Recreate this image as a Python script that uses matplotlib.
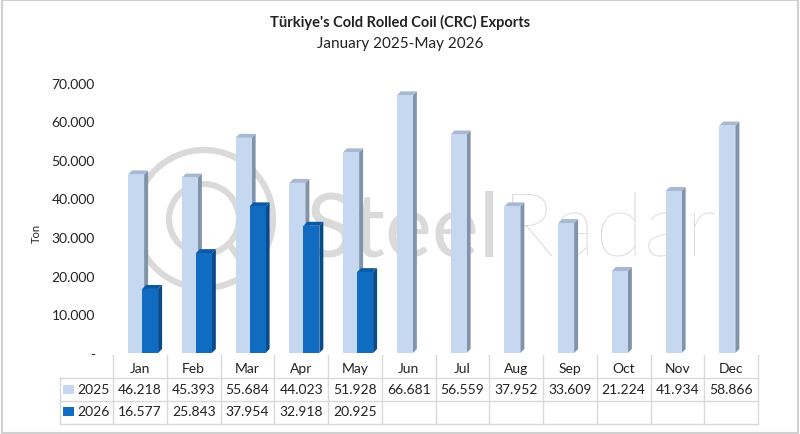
import numpy as np
import matplotlib
matplotlib.use("Agg")
import matplotlib.pyplot as plt
from matplotlib.patches import Polygon, Rectangle, Circle
from matplotlib.lines import Line2D
import matplotlib.transforms as mtransforms

plt.rcParams["font.family"] = ["Lato", "DejaVu Sans"]

months = ["Jan", "Feb", "Mar", "Apr", "May", "Jun",
          "Jul", "Aug", "Sep", "Oct", "Nov", "Dec"]
exports_2025 = [46218, 45393, 55684, 44023, 51928, 66681,
                56559, 37952, 33609, 21224, 41934, 58866]
exports_2026 = [16577, 25843, 37954, 32918, 20925]
series_names = ["2025", "2026"]
yticks = [0, 10000, 20000, 30000, 40000, 50000, 60000, 70000]

W, H = 800, 435
FRONT = ["#c5d8ef", "#0f6cc0"]
SIDE = ["#8193ab", "#0a4a88"]
TOP = ["#a7b8d0", "#0d5aa4"]
GRID = "#d9d9d9"
TXT = "#222222"
WM = "#dadada"


def fmt(v):
    if v == 0:
        return "-"
    return f"{v:,.0f}".replace(",", ".")


def fy(px):
    # pixel row -> figure fraction
    return 1 - px / H


fig = plt.figure(figsize=(W / 100, H / 100), dpi=100)
fig.patch.set_facecolor("white")
fig.patches.append(Rectangle((0.002, 0.003), 0.996, 0.994, transform=fig.transFigure,
                             fill=False, edgecolor="#d0d0d0", lw=1.5))

x_left, x_right = 113, 758
y_zero, y_top = 354, 70
ax = fig.add_axes([x_left / W, fy(y_zero), (x_right - x_left) / W, (y_zero - y_top) / H])
ax.set_xlim(-0.5, 11.5)
ax.set_ylim(0, 73500)
for s in ax.spines.values():
    s.set_visible(False)
ax.set_xticks([])
ax.set_yticks(yticks)
ax.set_yticklabels([fmt(v) for v in yticks], fontsize=10, color=TXT)
ax.tick_params(axis="y", length=0, pad=13)
fig.text(36 / W, fy(233), "Ton", rotation=90, ha="center", va="center", fontsize=8, color=TXT)

px_per_cat = (x_right - x_left) / 12.0
px_per_val = (y_zero - y_top) / 73500.0
dx = 4 / px_per_cat
dy = 4 / px_per_val
bw = 16 / px_per_cat
offsets = [-0.07, 0.19]

for k, vals in enumerate([exports_2025, exports_2026]):
    xs = np.arange(len(vals)) + offsets[k]
    ax.bar(xs, vals, width=bw, color=FRONT[k], edgecolor="none", zorder=2 + 2 * k)
    for x, h in zip(xs, vals):
        x0, x1 = x - bw / 2, x + bw / 2
        side = Polygon([(x1, 0), (x1 + dx, dy), (x1 + dx, h + dy), (x1, h)],
                       closed=True, facecolor=SIDE[k], edgecolor="none", zorder=1 + 2 * k)
        top = Polygon([(x0, h), (x0 + dx, h + dy), (x1 + dx, h + dy), (x1, h)],
                      closed=True, facecolor=TOP[k], edgecolor="none", zorder=1 + 2 * k)
        ax.add_patch(side)
        ax.add_patch(top)

# watermark (pixel coords, behind the bars)
pix = mtransforms.IdentityTransform()
cx, cy = 204, H - 220
for r in (69, 35):
    ax.add_patch(Circle((cx, cy), r, transform=pix, fill=False, edgecolor=WM,
                        lw=4.5, zorder=0.5, clip_on=False))
ax.add_line(Line2D([cx + 25, cx + 55], [cy - 25, cy - 67], transform=pix, color=WM,
                   lw=4.5, solid_capstyle="round", zorder=0.5, clip_on=False))
t1 = ax.text(305, H - 257, "Steel", transform=pix, fontsize=64, fontweight="normal",
             color=WM, ha="left", va="baseline", zorder=0.5)
fig.canvas.draw()
bb = t1.get_window_extent(fig.canvas.get_renderer())
ax.text(bb.x1 + 2, H - 257, "Radar", transform=pix, fontsize=64, fontweight="light",
        color=WM, ha="left", va="baseline", zorder=0.5)

# data table under the plot
bt = mtransforms.blended_transform_factory(ax.transData, fig.transFigure)
row_lines = [379, 402, 425]
for yp in row_lines:
    fig.add_artist(Line2D([60 / W, x_right / W], [fy(yp), fy(yp)], color=GRID, lw=1))
fig.add_artist(Line2D([60 / W, 60 / W], [fy(379), fy(425)], color=GRID, lw=1))
for i in range(13):
    ax.add_line(Line2D([i - 0.5, i - 0.5], [fy(356), fy(425)], transform=bt,
                       color=GRID, lw=1, clip_on=False))

for i, m in enumerate(months):
    ax.text(i, fy(369), m, transform=bt, ha="center", va="center", fontsize=10, color=TXT)
for r, vals in enumerate([exports_2025, exports_2026]):
    yc = fy(390 + 22 * r)
    for i, v in enumerate(vals):
        ax.text(i, yc, fmt(v), transform=bt, ha="center", va="center", fontsize=10, color=TXT)
    fig.patches.append(Rectangle((63 / W, yc - 4.5 / H), 11 / W, 9 / H, transform=fig.transFigure,
                                 facecolor=FRONT[r], edgecolor="none"))
    fig.text(77 / W, yc, series_names[r], ha="left", va="center", fontsize=10, color=TXT)

fig.text(0.5, fy(22), "Türkiye's Cold Rolled Coil (CRC) Exports", ha="center", va="center",
         fontsize=10.5, fontweight="bold", color=TXT)
fig.text(0.5, fy(44), "January 2025-May 2026", ha="center", va="center",
         fontsize=11, color=TXT)

fig.savefig("out.png", dpi=100)
